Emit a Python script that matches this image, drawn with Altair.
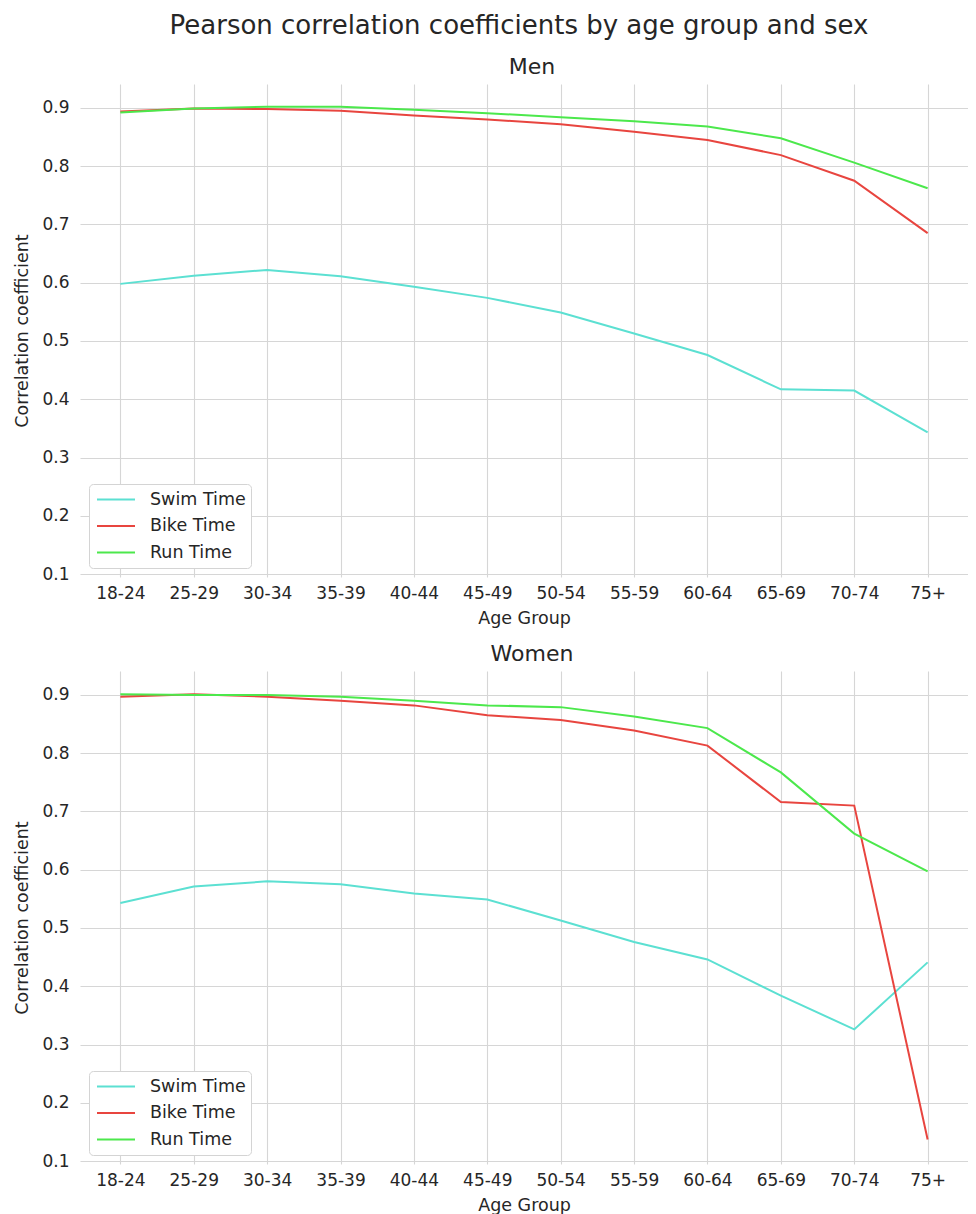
import altair as alt
import pandas as pd

age_groups = ["18-24", "25-29", "30-34", "35-39", "40-44", "45-49",
              "50-54", "55-59", "60-64", "65-69", "70-74", "75+"]
events = ["Swim Time", "Bike Time", "Run Time"]
colors = ["#5ce0d2", "#e8453f", "#4ce84c"]

men_swim = [0.598, 0.612, 0.622, 0.611, 0.593, 0.574, 0.549, 0.513, 0.476, 0.417, 0.415, 0.343]
men_bike = [0.894, 0.899, 0.898, 0.895, 0.887, 0.880, 0.872, 0.859, 0.845, 0.819, 0.775, 0.685]
men_run = [0.892, 0.899, 0.902, 0.902, 0.897, 0.891, 0.884, 0.877, 0.868, 0.848, 0.806, 0.762]

women_swim = [0.543, 0.571, 0.580, 0.575, 0.559, 0.549, 0.513, 0.476, 0.446, 0.384, 0.326, 0.441]
women_bike = [0.897, 0.901, 0.897, 0.890, 0.882, 0.865, 0.857, 0.839, 0.813, 0.716, 0.710, 0.137]
women_run = [0.901, 0.900, 0.900, 0.897, 0.890, 0.882, 0.879, 0.863, 0.843, 0.767, 0.662, 0.597]

series = {
    "Men": [men_swim, men_bike, men_run],
    "Women": [women_swim, women_bike, women_run],
}

rows = []
for sex, vals in series.items():
    for ev, arr in zip(events, vals):
        for ag, v in zip(age_groups, arr):
            rows.append({"sex": sex, "event": ev, "age": ag, "value": v})
df = pd.DataFrame(rows)

FONT = "DejaVu Sans"
TXT = "#262626"


def panel(sex):
    return (
        alt.Chart(df[df["sex"] == sex])
        .mark_line(strokeWidth=2)
        .encode(
            x=alt.X("age:N", sort=age_groups,
                    scale=alt.Scale(type="point", padding=0.55),
                    axis=alt.Axis(title="Age Group", labelAngle=0,
                                  labelPadding=8, titlePadding=8)),
            y=alt.Y("value:Q",
                    scale=alt.Scale(domain=[0.095, 0.941], nice=False, zero=False),
                    axis=alt.Axis(title="Correlation coefficient",
                                  values=[0.1, 0.2, 0.3, 0.4, 0.5, 0.6, 0.7, 0.8, 0.9],
                                  format=".1f", labelPadding=11, titlePadding=10)),
            color=alt.Color("event:N",
                            scale=alt.Scale(domain=events, range=colors),
                            legend=alt.Legend(title=None, orient="bottom-left")),
            detail="event:N",
        )
        .properties(width=888, height=493,
                    title=alt.TitleParams(sex, fontSize=22, font=FONT,
                                          color=TXT, fontWeight="normal",
                                          offset=5, dx=8))
    )


chart = (
    alt.vconcat(panel("Men"), panel("Women"), spacing=16)
    .resolve_legend(color="independent")
    .properties(
        padding={"left": 5, "top": 5, "right": 0, "bottom": 0},
        title=alt.TitleParams(
            "Pearson correlation coefficients by age group and sex",
            fontSize=26, font=FONT, color=TXT, fontWeight="normal",
            anchor="middle", offset=17, dx=28))
    .configure_view(stroke=None)
    .configure_axis(
        labelFont=FONT, titleFont=FONT, labelFontSize=17, titleFontSize=17.5,
        labelColor=TXT, titleColor=TXT, titleFontWeight="normal",
        grid=True, gridColor="#d6d6d6", gridWidth=1.1,
        domain=False, ticks=False,
    )
    .configure_legend(
        labelFont=FONT, labelFontSize=17.5, labelColor=TXT,
        symbolType="stroke", symbolSize=1444, symbolStrokeWidth=2,
        strokeColor="#d4d4d4", fillColor="#ffffff", cornerRadius=4,
        padding=4.5, symbolOffset=2.5, offset=9, rowPadding=4.5,
        clipHeight=22, labelOffset=14,
    )
)

chart.save("out.html", embed_options={"renderer": "svg", "actions": False})
